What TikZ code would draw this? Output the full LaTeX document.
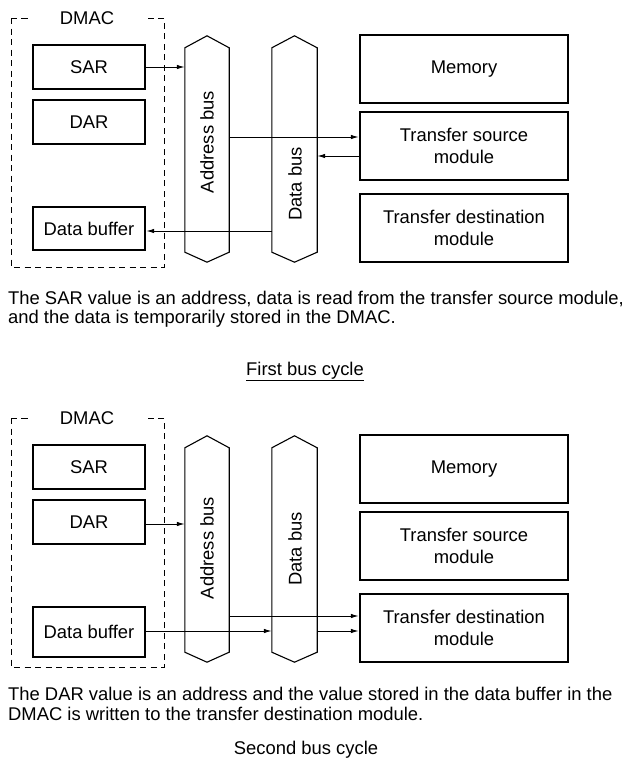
\documentclass[tikz,border=0pt]{standalone}
\usepackage{fontspec}
\setmainfont{Liberation Sans}
\usetikzlibrary{arrows.meta,positioning,calc}

\begin{document}
\begin{tikzpicture}[
    x=1pt, y=-1pt,
    >={Latex[length=8pt,width=4.5pt]},
    every node/.style={font=\fontsize{18.4}{22}\selectfont},
    reg/.style={draw, line width=2.4pt, minimum width=112pt, minimum height=44pt, inner sep=0pt},
    mod/.style={draw, line width=2.4pt, minimum width=208pt, minimum height=68pt, align=center, inner sep=0pt},
    bus/.style={minimum width=44pt, minimum height=204pt, inner sep=0pt},
    busline/.style={line width=1.1pt, line join=miter},
    buslbl/.style={rotate=90, inner sep=0pt},
    dmacbox/.style={line width=1pt, dash pattern=on 6pt off 4.5pt},
    dmaclbl/.style={fill=white, inner xsep=30pt, inner ysep=1pt},
    link/.style={->, line width=1pt},
    note/.style={align=left, anchor=base west, inner sep=0pt, font=\fontsize{18.4}{19.5}\selectfont},
  ]
  \useasboundingbox (0,0) rectangle (631,758);

  % first bus cycle
  \draw[dmacbox] (11,18) rectangle (164,267);
  \node[dmaclbl] (dmac1) at (87,18.5) {DMAC};
  \node[reg] (sar1) at (89,67) {SAR};
  \node[reg] (dar1) at (89,122) {DAR};
  \node[reg, minimum height=43pt] (buf1) at (89,228.5) {Data buffer};
  \node[bus] (abus1) at (207,150) {};
  \node[bus, minimum width=45pt] (dbus1) at (294.5,150) {};
  \node[buslbl] (alab1) at (207,142) {Address bus};
  \node[buslbl] (dlab1) at (295,184) {Data bus};
  \node[mod] (mem1) at (464,69) {Memory};
  \node[mod] (src1) at (464,146) {Transfer source\\module};
  \node[mod] (dst1) at (464,228) {Transfer destination\\module};
  \coordinate (rd1) at (0,137);
  \coordinate (rt1) at (0,156);
  \coordinate (wb1) at (0,231);
  \draw[link] (sar1) -- (sar1 -| abus1.west);
  \draw[link] (abus1.east |- rd1) -- (src1.west |- rd1);
  \draw[link] (src1.west |- rt1) -- (dbus1.east |- rt1);
  \draw[link] (dbus1.west |- wb1) -- (buf1.east |- wb1);
  % base of a two-line note is its last line
  \node[note] (txt1) at (8,323.5)
    {The SAR value is an address, data is read from the transfer source module,\\
     and the data is temporarily stored in the DMAC.};
  \node[anchor=base, inner sep=0pt] (cyc1) at (305,375) {\underline{First bus cycle}};

  % second bus cycle
  \draw[dmacbox] (11,418) rectangle (164,667);
  \node[dmaclbl] (dmac2) at (87,418.5) {DMAC};
  \node[reg] (sar2) at (89,467) {SAR};
  \node[reg] (dar2) at (89,522) {DAR};
  \node[reg, minimum height=50pt] (buf2) at (89,632) {Data buffer};
  \node[bus] (abus2) at (207,550) {};
  \node[bus, minimum width=45pt] (dbus2) at (294.5,550) {};
  \node[buslbl] (alab2) at (207,548) {Address bus};
  \node[buslbl] (dlab2) at (295,549) {Data bus};
  \node[mod] (mem2) at (464,469) {Memory};
  \node[mod] (src2) at (464,546) {Transfer source\\module};
  \node[mod] (dst2) at (464,628) {Transfer destination\\module};
  \coordinate (wa2) at (0,616);
  \coordinate (wd2) at (0,631);
  \draw[link] (dar2.east |- 0,524) -- (abus2.west |- 0,524);
  \draw[link] (abus2.east |- wa2) -- (dst2.west |- wa2);
  \draw[link] (buf2.east |- wd2) -- (dbus2.west |- wd2);
  \draw[link] (dbus2.east |- wd2) -- (dst2.west |- wd2);
  \node[note] (txt2) at (8,720)
    {The DAR value is an address and the value stored in the data buffer in the\\
     DMAC is written to the transfer destination module.};
  \node[anchor=base, inner sep=0pt] (cyc2) at (306,754) {Second bus cycle};

  % bus outlines
  \foreach \b in {abus1,dbus1,abus2,dbus2}
    \draw[busline] (\b.north west) -- ([yshift=12pt]\b.north) -- (\b.north east)
      -- (\b.south east) -- ([yshift=-10pt]\b.south) -- (\b.south west) -- cycle;
\end{tikzpicture}
\end{document}
